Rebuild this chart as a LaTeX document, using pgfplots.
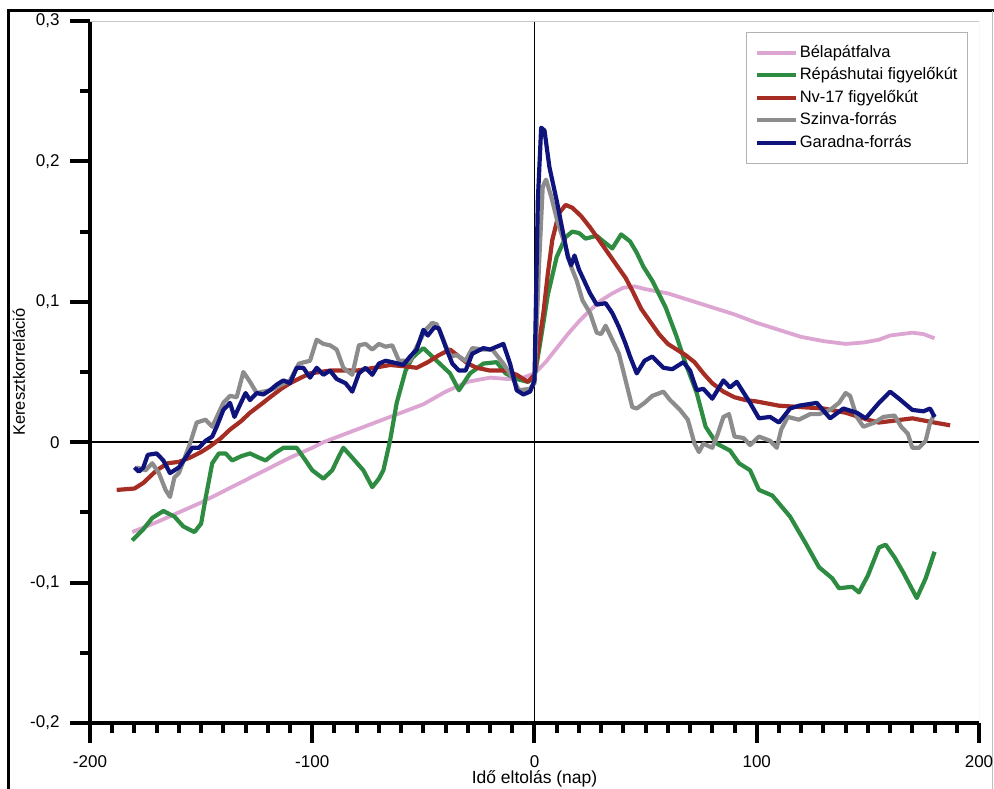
\documentclass[border=0pt]{standalone}
\usepackage{pgfplots}
\pgfplotsset{compat=1.18}
\usepackage{fontspec}
\setmainfont{Liberation Sans}

\definecolor{cBela}{RGB}{220,165,210}
\definecolor{cRepa}{RGB}{45,140,65}
\definecolor{cNv}{RGB}{165,45,35}
\definecolor{cSzin}{RGB}{140,140,140}
\definecolor{cGara}{RGB}{15,20,125}

\begin{document}
\begin{tikzpicture}
\useasboundingbox (-90pt,-66pt) rectangle (904pt,723pt);
% outer frame
\draw[line width=3pt,black] (-81pt,-80pt) -- (-81pt,712pt) -- (904pt,712pt);
\draw[line width=0.8pt,gray!50] (902pt,712pt) -- (902pt,-80pt);
\begin{axis}[
  scale only axis,
  width=889pt, height=702pt,
  xmin=-200, xmax=200, ymin=-0.2, ymax=0.3,
  axis x line*=bottom, axis y line*=left,
  axis line style={line width=4pt,-},
  xtick={-200,-100,0,100,200},
  xticklabels={-200,-100,0,100,200},
  ytick={-0.2,-0.1,0,0.1,0.2,0.3},
  yticklabels={{-0,2},{-0,1},0,{0,1},{0,2},{0,3}},
  minor x tick num=9, minor y tick num=1,
  tick align=outside,
  major tick length=20pt, minor tick length=10pt,
  tick style={line width=4pt,black},
  ticklabel style={font=\fontsize{17}{17}\selectfont},
  xticklabel style={yshift=-9pt},
  yticklabel style={xshift=-7pt},
  xlabel={Idő eltolás (nap)},
  ylabel={Keresztkorreláció},
  every axis x label/.style={at={(axis description cs:0.5,-0.0795)},anchor=center,font=\fontsize{17.5}{17.5}\selectfont},
  every axis y label/.style={at={(axis description cs:-0.0799,0.5)},rotate=90,anchor=center,font=\fontsize{16.5}{16.5}\selectfont},
  legend cell align=left,
  legend style={draw=gray!60, line width=0.8pt,
    at={(rel axis cs:0.9876,0.984)}, anchor=north east,
    font=\fontsize{16.5}{16.5}\selectfont,
    inner xsep=8pt, inner ysep=10pt, row sep=2pt,
    nodes={inner sep=2pt, text height=12.5pt, text depth=4pt}},
  legend image code/.code={\draw[#1, line width=4pt] (0pt,0pt) -- (39pt,0pt);},
  every axis plot/.append style={line width=4.2pt, line join=round},
]
% reference lines through the origin
\draw[line width=1.5pt,black] (axis cs:0,-0.2) -- (axis cs:0,0.3);
\draw[line width=1.5pt,black] (axis cs:-200,0) -- (axis cs:200,0);
\draw[line width=0.8pt,gray!45] (rel axis cs:0,1) -- (rel axis cs:1,1) -- (rel axis cs:1,0);

\addplot[cBela, line width=3.8pt] table {
-181 -0.064
-170 -0.057
-160 -0.050
-150 -0.043
-140 -0.035
-130 -0.027
-120 -0.019
-110 -0.011
-100 -0.004
-95 0.000
-90 0.003
-80 0.009
-70 0.015
-60 0.021
-50 0.027
-40 0.036
-30 0.043
-20 0.046
-12 0.045
-5 0.046
0 0.049
5 0.057
10 0.067
15 0.077
20 0.086
25 0.094
30 0.101
35 0.106
40 0.110
45 0.111
50 0.109
60 0.106
70 0.101
80 0.096
90 0.091
100 0.085
110 0.080
120 0.075
130 0.072
140 0.070
148 0.071
155 0.073
160 0.076
170 0.078
175 0.077
180 0.074
};
\addlegendentry{Bélapátfalva}

\addplot[cRepa] table {
-181 -0.070
-176 -0.062
-172 -0.054
-167 -0.049
-162 -0.053
-158 -0.060
-153 -0.064
-150 -0.058
-148 -0.040
-145 -0.015
-142 -0.008
-139 -0.008
-136 -0.013
-132 -0.010
-128 -0.008
-124 -0.011
-121 -0.013
-117 -0.008
-113 -0.004
-107 -0.004
-103 -0.013
-100 -0.020
-95 -0.026
-91 -0.020
-88 -0.010
-86 -0.004
-82 -0.011
-77 -0.020
-73 -0.032
-70 -0.026
-68 -0.020
-65 0.001
-62 0.028
-58 0.051
-55 0.060
-53 0.063
-50 0.067
-44 0.058
-38 0.049
-34 0.037
-29 0.049
-23 0.056
-17 0.057
-13 0.049
-8 0.045
-3 0.043
0 0.046
3 0.075
6 0.105
10 0.132
14 0.146
17 0.150
20 0.149
23 0.145
28 0.147
31 0.143
35 0.138
39 0.148
43 0.143
46 0.135
49 0.125
53 0.115
59 0.096
64 0.075
68 0.056
73 0.035
77 0.011
82 -0.001
88 -0.006
92 -0.015
97 -0.020
101 -0.034
107 -0.038
115 -0.053
122 -0.072
128 -0.089
134 -0.097
137 -0.104
143 -0.103
146 -0.107
150 -0.095
155 -0.075
158 -0.073
162 -0.082
166 -0.093
172 -0.111
176 -0.097
180 -0.078
};
\addlegendentry{Répáshutai figyelőkút}

\addplot[cNv] table {
-188 -0.034
-180 -0.033
-176 -0.029
-170 -0.020
-165 -0.015
-160 -0.014
-155 -0.011
-150 -0.007
-146 -0.003
-141 0.003
-137 0.009
-132 0.015
-128 0.021
-123 0.027
-119 0.032
-114 0.038
-110 0.042
-105 0.046
-101 0.049
-92 0.051
-80 0.051
-72 0.053
-65 0.055
-58 0.054
-53 0.053
-48 0.057
-43 0.062
-38 0.066
-34 0.061
-30 0.056
-26 0.053
-20 0.051
-13 0.051
-8 0.048
-3 0.043
0 0.048
2 0.070
4 0.092
6 0.120
8 0.144
11 0.163
14 0.169
17 0.167
21 0.161
25 0.153
29 0.144
33 0.135
37 0.126
41 0.117
44 0.108
48 0.095
52 0.086
56 0.077
60 0.070
64 0.066
68 0.062
72 0.057
76 0.049
80 0.042
85 0.036
90 0.032
95 0.030
100 0.029
110 0.026
120 0.025
130 0.024
140 0.021
150 0.016
155 0.014
160 0.015
170 0.017
180 0.014
187 0.012
};
\addlegendentry{Nv-17 figyelőkút}

\addplot[cSzin] table {
-179 -0.018
-175 -0.020
-172 -0.015
-169 -0.022
-166 -0.034
-164 -0.039
-162 -0.025
-160 -0.022
-155 -0.001
-152 0.014
-148 0.016
-145 0.011
-140 0.028
-137 0.033
-134 0.032
-131 0.050
-128 0.043
-125 0.035
-122 0.036
-119 0.037
-115 0.040
-110 0.044
-106 0.056
-101 0.058
-98 0.073
-95 0.070
-92 0.069
-89 0.066
-86 0.053
-82 0.048
-79 0.069
-76 0.070
-73 0.066
-70 0.070
-67 0.068
-64 0.069
-61 0.058
-56 0.058
-53 0.068
-49 0.080
-46 0.085
-44 0.084
-41 0.073
-38 0.061
-35 0.062
-31 0.058
-28 0.067
-23 0.066
-19 0.066
-14 0.056
-10 0.046
-7 0.037
-2 0.038
0 0.042
2 0.125
3.7 0.182
5.2 0.187
7.5 0.175
10.5 0.156
13.5 0.142
16.5 0.125
19 0.115
21.6 0.101
25 0.092
28 0.078
30 0.077
32 0.083
35 0.073
38 0.063
41 0.044
44 0.025
46 0.024
49.5 0.028
53 0.033
58 0.036
61 0.030
65.5 0.023
69 0.016
72 -0.001
74 -0.007
76 -0.001
80 -0.004
82.5 0.006
85 0.018
87.5 0.020
90 0.004
94 0.003
97 -0.002
101 0.004
106 0.001
109 -0.004
111 0.009
114 0.018
119 0.016
124 0.020
128 0.020
133 0.023
137 0.028
140 0.035
142 0.033
145 0.018
148 0.011
153 0.014
157 0.018
162 0.019
165 0.011
168 0.006
170 -0.004
173 -0.004
176 0.001
178 0.014
180 0.020
};
\addlegendentry{Szinva-forrás}

\addplot[cGara] table {
-180 -0.018
-178 -0.021
-176 -0.018
-174 -0.009
-170 -0.008
-167 -0.013
-164 -0.022
-162 -0.020
-160 -0.018
-157 -0.011
-154 -0.004
-151 -0.004
-148 0.001
-145 0.004
-143 0.011
-140 0.023
-137 0.028
-135 0.018
-133 0.025
-130 0.035
-128 0.030
-125 0.035
-122 0.034
-119 0.037
-116 0.041
-113 0.044
-110 0.042
-107 0.053
-104 0.053
-101 0.046
-98 0.053
-95 0.048
-92 0.051
-89 0.045
-85 0.042
-82 0.036
-79 0.049
-76 0.053
-73 0.048
-70 0.056
-67 0.058
-64 0.057
-59 0.055
-56 0.061
-53 0.066
-50 0.080
-48 0.076
-45 0.082
-43 0.081
-40 0.068
-37 0.056
-34 0.051
-31 0.051
-28 0.063
-23 0.067
-20 0.066
-17 0.068
-14 0.070
-11 0.056
-8 0.037
-5 0.034
-2 0.036
0 0.044
1.5 0.172
3 0.224
4.5 0.222
6.7 0.196
10 0.172
12.6 0.151
15 0.132
16.5 0.126
18 0.133
20 0.123
25 0.106
28 0.098
32 0.099
35 0.092
38 0.082
41 0.070
43 0.061
46 0.049
49.5 0.058
53 0.061
58 0.053
62 0.052
67 0.057
70 0.051
73 0.037
76 0.038
80 0.031
85 0.044
88 0.039
91 0.043
97 0.028
101 0.017
106 0.018
110 0.014
115 0.024
119 0.026
127 0.028
133 0.017
139 0.024
145 0.021
149 0.017
155 0.028
160 0.036
164 0.031
170 0.023
175 0.022
178 0.024
180 0.018
};
\addlegendentry{Garadna-forrás}
\end{axis}
\end{tikzpicture}
\end{document}
